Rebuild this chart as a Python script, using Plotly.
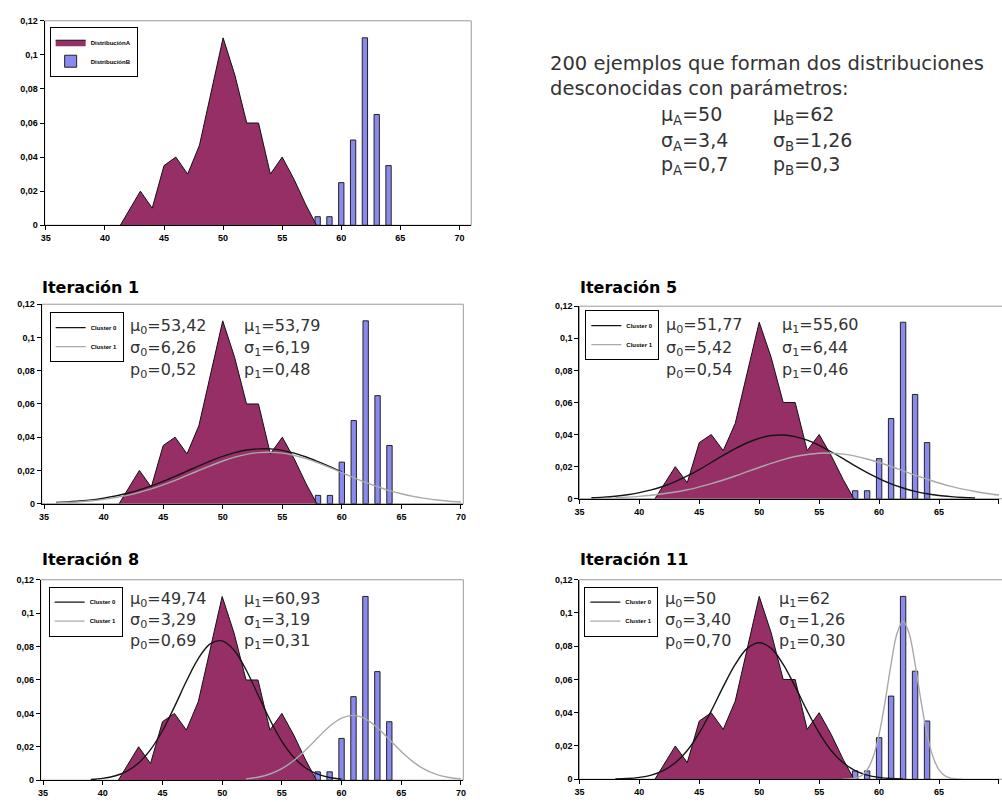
import plotly.graph_objects as go

# ---------------- data ----------------
area_x = [41.3, 42, 43, 44, 45, 46, 47, 48, 49, 50, 51, 52, 53, 54, 55, 56, 57, 57.9]
area_y = [0, 0.008, 0.02, 0.01, 0.035, 0.04, 0.03, 0.047, 0.078, 0.11, 0.088, 0.06,
          0.06, 0.03, 0.04, 0.027, 0.012, 0]

bars_x = [58, 59, 60, 61, 62, 63, 64]
bars_y = [0.005, 0.005, 0.025, 0.05, 0.11, 0.065, 0.035]

it1_c0_x = [36, 37, 38, 39, 40, 41, 42, 43, 44, 45, 46, 47, 48, 49, 50, 51, 52, 53, 54,
            55, 56, 57, 58, 59, 60]
it1_c0_y = [0.0007, 0.0011, 0.0016, 0.0023, 0.0033, 0.0046, 0.0063, 0.0083, 0.0107, 0.0134,
            0.0164, 0.0196, 0.0228, 0.0258, 0.0285, 0.0307, 0.0323, 0.0330, 0.0330, 0.0321,
            0.0304, 0.0281, 0.0253, 0.0223, 0.0191]
it1_c1_x = [36, 37, 38, 39, 40, 41, 42, 43, 44, 45, 46, 47, 48, 49, 50, 51, 52, 53, 54,
            55, 56, 57, 58, 59, 60, 61, 62, 63, 64, 65, 66, 67, 68, 69, 70]
it1_c1_y = [0.0005, 0.0008, 0.0012, 0.0018, 0.0026, 0.0037, 0.0050, 0.0068, 0.0089, 0.0113,
            0.0140, 0.0170, 0.0200, 0.0229, 0.0257, 0.0280, 0.0297, 0.0307, 0.0309, 0.0304,
            0.0290, 0.0271, 0.0246, 0.0217, 0.0187, 0.0157, 0.0128, 0.0102, 0.0079, 0.0060,
            0.0044, 0.0032, 0.0022, 0.0015, 0.0010]

it5_c0_x = [36, 37, 38, 39, 40, 41, 42, 43, 44, 45, 46, 47, 48, 49, 50, 51, 52, 53, 54,
            55, 56, 57, 58, 59, 60, 61, 62, 63, 64, 65, 66, 67, 68]
it5_c0_y = [0.0006, 0.0010, 0.0016, 0.0025, 0.0038, 0.0055, 0.0078, 0.0107, 0.0142, 0.0182,
            0.0226, 0.0270, 0.0312, 0.0349, 0.0377, 0.0394, 0.0397, 0.0387, 0.0365, 0.0333,
            0.0293, 0.0250, 0.0205, 0.0163, 0.0126, 0.0093, 0.0067, 0.0046, 0.0031, 0.0020,
            0.0013, 0.0008, 0.0005]
it5_c1_x = [38, 39, 40, 41, 42, 43, 44, 45, 46, 47, 48, 49, 50, 51, 52, 53, 54, 55, 56,
            57, 58, 59, 60, 61, 62, 63, 64, 65, 66, 67, 68, 69, 70]
it5_c1_y = [0.0007, 0.0010, 0.0015, 0.0022, 0.0031, 0.0042, 0.0056, 0.0074, 0.0094, 0.0117,
            0.0142, 0.0169, 0.0195, 0.0221, 0.0244, 0.0263, 0.0276, 0.0284, 0.0284, 0.0278,
            0.0266, 0.0248, 0.0226, 0.0201, 0.0174, 0.0147, 0.0122, 0.0098, 0.0077, 0.0060,
            0.0045, 0.0033, 0.0023]

it8_c0_x = [39, 40, 41, 42, 43, 44, 45, 46, 47, 48, 49, 50, 51, 52, 53, 54, 55, 56, 57,
            58, 59, 60]
it8_c0_y = [0.0004, 0.0011, 0.0025, 0.0053, 0.0103, 0.0183, 0.0296, 0.0439, 0.0592, 0.0728,
            0.0816, 0.0834, 0.0778, 0.0661, 0.0512, 0.0362, 0.0233, 0.0137, 0.0073, 0.0036,
            0.0016, 0.0007]
it8_c1_x = [52, 53, 54, 55, 56, 57, 58, 59, 60, 61, 62, 63, 64, 65, 66, 67, 68, 69, 70]
it8_c1_y = [0.0008, 0.0018, 0.0037, 0.0069, 0.0118, 0.0182, 0.0254, 0.0323, 0.0372, 0.0388,
            0.0367, 0.0314, 0.0244, 0.0172, 0.0110, 0.0063, 0.0033, 0.0016, 0.0007]

it11_c0_x = [38, 39, 40, 41, 42, 43, 44, 45, 46, 47, 48, 49, 50, 51, 52, 53, 54, 55, 56,
             57, 58, 59, 60, 61, 62]
it11_c0_y = [0.0002, 0.0004, 0.0011, 0.0025, 0.0052, 0.0099, 0.0173, 0.0279, 0.0411, 0.0557,
             0.0691, 0.0787, 0.0821, 0.0787, 0.0691, 0.0557, 0.0411, 0.0279, 0.0173, 0.0099,
             0.0052, 0.0025, 0.0011, 0.0004, 0.0002]
it11_c1_x = [57, 57.5, 58, 58.5, 59, 59.5, 60, 60.5, 61, 61.5, 62, 62.5, 63, 63.5, 64, 64.5,
             65, 65.5, 66, 66.5, 67]
it11_c1_y = [0.0000, 0.0002, 0.0006, 0.0020, 0.0056, 0.0133, 0.0270, 0.0468, 0.0693, 0.0878,
             0.0950, 0.0878, 0.0693, 0.0468, 0.0270, 0.0133, 0.0056, 0.0020, 0.0006, 0.0002,
             0.0000]

iter_titles = ["Iteración 1", "Iteración 5", "Iteración 8", "Iteración 11"]
iter_mu0 = ["53,42", "51,77", "49,74", "50"]
iter_sigma0 = ["6,26", "5,42", "3,29", "3,40"]
iter_p0 = ["0,52", "0,54", "0,69", "0,70"]
iter_mu1 = ["53,79", "55,60", "60,93", "62"]
iter_sigma1 = ["6,19", "6,44", "3,19", "1,26"]
iter_p1 = ["0,48", "0,46", "0,31", "0,30"]

intro_lines = ["200 ejemplos que forman dos distribuciones", "desconocidas con parámetros:"]
true_A = ["μ<sub>A</sub>=50", "σ<sub>A</sub>=3,4", "p<sub>A</sub>=0,7"]
true_B = ["μ<sub>B</sub>=62", "σ<sub>B</sub>=1,26", "p<sub>B</sub>=0,3"]

series_names = ["DistribuciónA", "DistribuciónB"]
cluster_names = ["Cluster 0", "Cluster 1"]

# ---------------- styling / layout ----------------
W, H = 1002, 802
PLUM = "#962f66"
BLUE = "#8a8aee"
C0 = "#151515"
C1 = "#a9a9a9"
TXT = "#333333"
FONT = "DejaVu Sans"


def px_x(p):
    return p / W


def px_y(p):
    return 1 - p / H


# panels: (left, right, top, bottom) in pixels, x range
panels = [
    dict(l=40, r=470, t=16, b=223, xr=[34.9, 71.0]),
    dict(l=37, r=462, t=303, b=505, xr=[34.8, 70.2]),
    dict(l=579, r=1002, t=305, b=500, xr=[35, 70]),
    dict(l=36, r=462, t=582, b=785, xr=[34.8, 70.2]),
    dict(l=579, r=1002, t=582, b=784, xr=[35, 70]),
]

fig = go.Figure()

iter_curves = [
    (it1_c0_x, it1_c0_y, it1_c1_x, it1_c1_y),
    (it5_c0_x, it5_c0_y, it5_c1_x, it5_c1_y),
    (it8_c0_x, it8_c0_y, it8_c1_x, it8_c1_y),
    (it11_c0_x, it11_c0_y, it11_c1_x, it11_c1_y),
]

for i, pan in enumerate(panels):
    n = "" if i == 0 else str(i + 1)
    xa, ya = "x" + n, "y" + n
    leg = "legend" if i == 0 else "legend" + str(i + 1)
    fig.add_trace(go.Scatter(
        x=area_x, y=area_y, mode="lines", fill="tozeroy", fillcolor=PLUM,
        line=dict(color="#111111", width=1), name=series_names[0],
        xaxis=xa, yaxis=ya, showlegend=(i == 0), legend=leg, hoverinfo="skip"))
    fig.add_trace(go.Bar(
        x=bars_x, y=bars_y, width=0.45, marker=dict(color=BLUE, line=dict(color="#222222", width=1)),
        name=series_names[1], xaxis=xa, yaxis=ya, showlegend=(i == 0), legend=leg,
        hoverinfo="skip"))
    if i > 0:
        c0x, c0y, c1x, c1y = iter_curves[i - 1]
        fig.add_trace(go.Scatter(
            x=c0x, y=c0y, mode="lines", line=dict(color=C0, width=1.4, shape="spline"),
            name=cluster_names[0], xaxis=xa, yaxis=ya, legend=leg))
        fig.add_trace(go.Scatter(
            x=c1x, y=c1y, mode="lines", line=dict(color=C1, width=1.4, shape="spline"),
            name=cluster_names[1], xaxis=xa, yaxis=ya, legend=leg))

tickfont = dict(family="Arial", size=9, color="black", weight="bold")
layout = dict(
    width=W, height=H, margin=dict(l=0, r=0, t=0, b=0),
    paper_bgcolor="white", plot_bgcolor="white", separators=",.",
    barmode="overlay", showlegend=True, shapes=[], annotations=[],
)

for i, pan in enumerate(panels):
    n = "" if i == 0 else str(i + 1)
    xk, yk = "xaxis" + n, "yaxis" + n
    layout[xk] = dict(
        domain=[px_x(pan["l"]), px_x(pan["r"])], range=pan["xr"], anchor="y" + n,
        showline=True, linecolor="black", linewidth=1, ticks="outside", ticklen=4,
        tickcolor="black", tick0=35, dtick=5, tickfont=tickfont, showgrid=False,
        zeroline=False, fixedrange=True)
    layout[yk] = dict(
        domain=[px_y(pan["b"]), px_y(pan["t"])], range=[0, 0.12], anchor="x" + n,
        showline=True, linecolor="black", linewidth=1, ticks="outside", ticklen=4,
        tickcolor="black", tick0=0, dtick=0.02, tickfont=tickfont, showgrid=False,
        zeroline=False, fixedrange=True)
    layout["shapes"].append(dict(
        type="rect", xref="x" + n + " domain", yref="y" + n + " domain",
        x0=0, x1=1 if pan["r"] < 1000 else 1.02, y0=0, y1=1,
        line=dict(color="#9a9a9a", width=1), layer="below"))

# legends
leg_common = dict(xanchor="left", yanchor="top", bgcolor="white", bordercolor="black",
                  borderwidth=1, font=dict(family="Arial", size=6, color="black", weight="bold"),
                  tracegroupgap=0, itemwidth=30)
leg_pos = [(45, 22), (45, 311), (585, 309), (44, 589), (584, 589)]
for i, (lx, ly) in enumerate(leg_pos):
    key = "legend" if i == 0 else "legend" + str(i + 1)
    layout[key] = dict(leg_common, x=px_x(lx), y=px_y(ly))

# intro text block
intro_y = [59, 85]
for t, yy in zip(intro_lines, intro_y):
    layout["annotations"].append(dict(
        text=t, x=px_x(547), y=px_y(yy), xref="paper", yref="paper", xanchor="left",
        yanchor="middle", showarrow=False, font=dict(family=FONT, size=19.5, color=TXT)))
true_rows = [112, 138, 163]
for a, b, yy in zip(true_A, true_B, true_rows):
    for t, xx in ((a, 659), (b, 772)):
        layout["annotations"].append(dict(
            text=t, x=px_x(xx), y=px_y(yy), xref="paper", yref="paper", xanchor="left",
            yanchor="middle", showarrow=False, font=dict(family=FONT, size=19, color=TXT)))

# iteration titles and parameters
title_pos = [(35, 286), (578, 286), (35, 561), (578, 561)]
param_cols = [(124, 239), (664, 781), (124, 239), (663, 778)]
param_rows = [(326, 348, 370), (325, 348, 370), (602, 623, 645), (602, 623, 645)]
for k in range(4):
    tx, ty = title_pos[k]
    layout["annotations"].append(dict(
        text="<b>" + iter_titles[k] + "</b>", x=px_x(tx), y=px_y(ty), xref="paper",
        yref="paper", xanchor="left", yanchor="middle", showarrow=False,
        font=dict(family=FONT, size=16, color="black")))
    left = ["μ<sub>0</sub>=" + iter_mu0[k], "σ<sub>0</sub>=" + iter_sigma0[k],
            "p<sub>0</sub>=" + iter_p0[k]]
    right = ["μ<sub>1</sub>=" + iter_mu1[k], "σ<sub>1</sub>=" + iter_sigma1[k],
             "p<sub>1</sub>=" + iter_p1[k]]
    for col, xx in ((left, param_cols[k][0]), (right, param_cols[k][1])):
        for t, yy in zip(col, param_rows[k]):
            layout["annotations"].append(dict(
                text=t, x=px_x(xx), y=px_y(yy), xref="paper", yref="paper",
                xanchor="left", yanchor="middle", showarrow=False,
                font=dict(family=FONT, size=16, color=TXT)))

fig.update_layout(**layout)
fig.write_html("out.html")
